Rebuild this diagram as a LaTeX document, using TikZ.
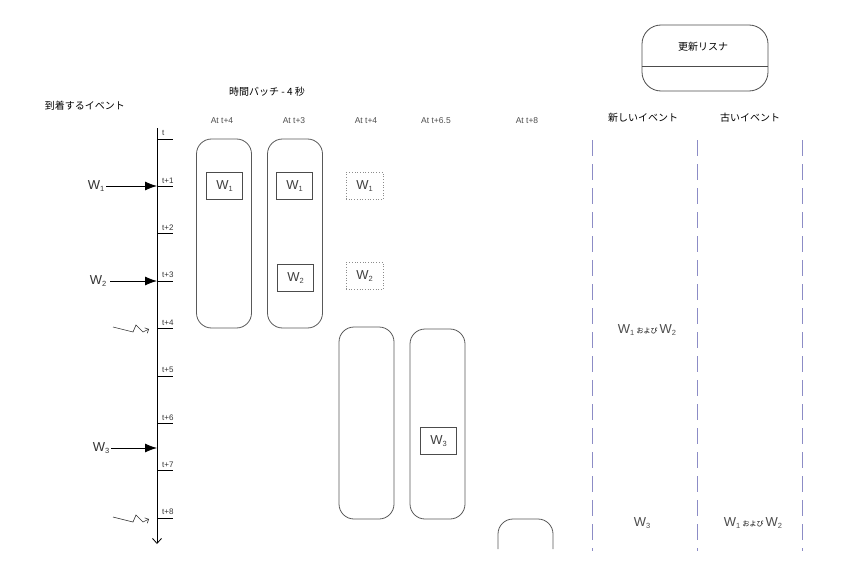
\documentclass[tikz,border=0pt]{standalone}
\usepackage{fontspec}
\setmainfont{Liberation Sans}
\newfontfamily\jp{Noto Sans CJK JP}
\usetikzlibrary{arrows.meta}
\newcommand\Wsub[1]{W\raisebox{-1.5pt}{\fontsize{7.5}{7.5}\selectfont #1}}
\begin{document}
\begin{tikzpicture}[x=1pt,y=-1pt,
  batch/.style={draw=black!65, line width=0.8pt, rounded corners=15pt, minimum width=55pt, minimum height=189pt, inner sep=0pt},
  wbox/.style={draw=black!70, line width=0.7pt, minimum width=36pt, minimum height=27pt, inner sep=0pt, text=black!75, font=\fontsize{13}{13}\selectfont},
  wdot/.style={draw=black!45, dotted, line width=0.7pt, minimum width=37pt, minimum height=27pt, inner sep=0pt, text=black!75, font=\fontsize{13}{13}\selectfont},
  wlabel/.style={inner sep=0pt, text=black!80, font=\fontsize{13}{13}\selectfont},
  collabel/.style={inner sep=0pt, text=black!70, font=\fontsize{8.5}{8.5}\selectfont},
  ticklabel/.style={inner sep=0pt, anchor=south west, text=black!80, font=\fontsize{8}{8}\selectfont},
  jplabel/.style={inner sep=0pt, font=\jp\fontsize{10}{10}\selectfont},
  evlabel/.style={inner sep=0pt, text=black!70, font=\fontsize{13}{13}\selectfont},
  sep/.style={draw=blue!50!black!45, dash pattern=on 16pt off 8pt, line width=0.8pt},
  inarrow/.style={line width=0.8pt, -{Latex[length=12pt,width=9pt]}},
  zig/.style={line width=0.6pt, black!80, -{Straight Barb[length=3pt,width=6pt]}}
]
\useasboundingbox (0,0) rectangle (844,586);

% headers
\node[jplabel] (hin) at (85,106) {到着するイベント};
\node[jplabel] (hbatch) at (267,92) {時間バッチ - 4 秒};

% column labels
\node[collabel] (c1) at (222,121) {At t+4};
\node[collabel] (c2) at (294,121) {At t+3};
\node[collabel] (c3) at (366,121) {At t+4};
\node[collabel] (c4) at (436,121) {At t+6.5};
\node[collabel] (c5) at (527,121) {At t+8};

% timeline
\coordinate (tltop) at (157,128);
\coordinate (tlbot) at (157,544);
\draw[line width=0.8pt, -{Straight Barb[length=5pt,width=9pt]}] (tltop) -- (tlbot);
\foreach \i/\lab in {0/t,1/t+1,2/t+2,3/t+3,4/t+4,5/t+5,6/t+6,7/t+7,8/t+8}{
  \coordinate (tk\i) at (157,139+47.4*\i);
  \coordinate (tke\i) at (173,139+47.4*\i);
  \draw[line width=0.7pt] (tk\i) -- (tke\i);
  \node[ticklabel] (tl\i) at (162,136+47.4*\i) {\lab};
}

% incoming events
\node[wlabel] (w1) at (96,186) {\Wsub1};
\coordinate (a1) at (157,186);
\draw[inarrow] (w1.east) ++(2,0) -- (a1);
\node[wlabel] (w2) at (98,281) {\Wsub2};
\coordinate (a2) at (157,281);
\draw[inarrow] (w2.east) ++(4,0) -- (a2);
\node[wlabel] (w3) at (101,448) {\Wsub3};
\coordinate (a3) at (157,448);
\draw[inarrow] (w3.east) ++(2,0) -- (a3);

% zigzag triggers
\foreach \y [count=\k] in {328,518}{
  \coordinate (z\k a) at (113,\y-1);
  \coordinate (z\k b) at (133,\y+4);
  \coordinate (z\k c) at (136,\y-3);
  \coordinate (z\k d) at (143,\y+4);
  \coordinate (z\k e) at (149,\y+1);
  \draw[zig] (z\k a) -- (z\k b) -- (z\k c) -- (z\k d) -- (z\k e);
}

% batches
\node[batch] (b1) at (224,233.5) {};
\node[batch] (b2) at (295,233.5) {};
\node[batch, minimum height=192pt] (b3) at (366.5,423) {};
\node[batch, minimum height=190pt] (b4) at (437.5,424) {};
\coordinate (b5a) at (498,549);
\coordinate (b5b) at (498,519);
\coordinate (b5c) at (553,519);
\coordinate (b5d) at (553,549);
\draw[draw=black!65, line width=0.8pt, rounded corners=15pt] (b5a) -- (b5b) -- (b5c) -- (b5d);

% event boxes
\node[wbox] (e11) at (224.5,186) {\Wsub1};
\node[wbox] (e21) at (294.5,186) {\Wsub1};
\node[wbox] (e22) at (295.5,278) {\Wsub2};
\node[wdot] (e31) at (364.5,186) {\Wsub1};
\node[wdot] (e32) at (364.5,276) {\Wsub2};
\node[wbox] (e43) at (438.5,441) {\Wsub3};

% update listener
\node[draw=black!70, line width=0.8pt, rounded corners=19pt, minimum width=126pt, minimum height=66pt, inner sep=0pt] (ul) at (705,58) {};
\coordinate (ulL) at (642,66);
\coordinate (ulR) at (768,66);
\draw[black!70, line width=0.8pt] (ulL) -- (ulR);
\node[jplabel] (ult) at (703,47) {更新リスナ};

\node[jplabel] (hnew) at (643,118) {新しいイベント};
\node[jplabel] (hold) at (750,118) {古いイベント};

% separators
\foreach \x [count=\k] in {592,697,802}{
  \coordinate (s\k t) at (\x,140);
  \coordinate (s\k b) at (\x,551);
  \draw[sep] (s\k t) -- (s\k b);
}

% results
\node[evlabel] (r1) at (647,330) {\Wsub1\,{\color{black}\jp\fontsize{7}{7}\selectfont および}\,\Wsub2};
\node[evlabel] (r2) at (642,523) {\Wsub3};
\node[evlabel] (r3) at (753,523) {\Wsub1\,{\color{black}\jp\fontsize{7}{7}\selectfont および}\,\Wsub2};
\end{tikzpicture}
\end{document}
